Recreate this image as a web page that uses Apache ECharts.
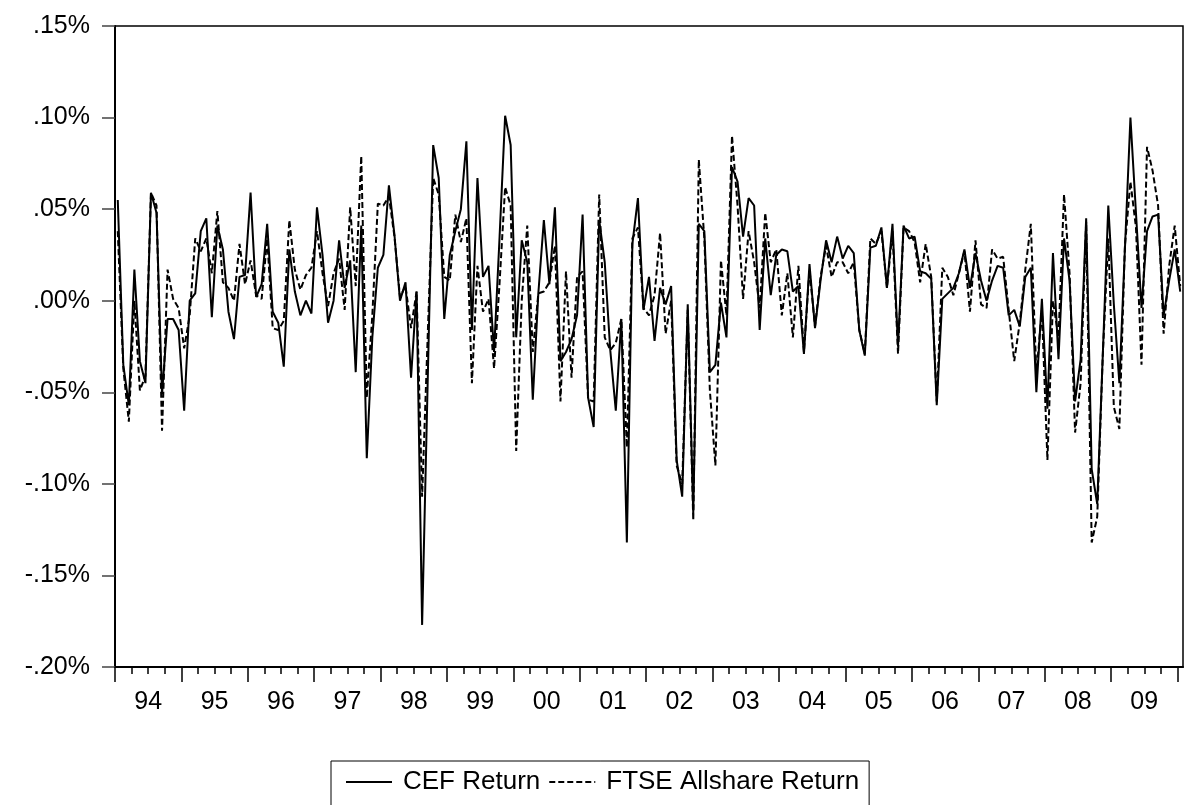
<!DOCTYPE html>
<html>
<head>
<meta charset="utf-8">
<title>CEF vs FTSE returns</title>
<script src="https://cdn.jsdelivr.net/npm/echarts@6/dist/echarts.min.js"></script>
<style>
  html, body { margin: 0; padding: 0; background: #fff; }
  #chart { width: 1193px; height: 805px; }
</style>
</head>
<body>
<div id="chart"></div>
<script>
// monthly observations, 1994M01 .. 2010M01
var years = ["94", "95", "96", "97", "98", "99", "00", "01", "02", "03", "04", "05", "06", "07", "08", "09"];

var cefReturn = [
  0.055, -0.035, -0.057, 0.017, -0.033, -0.045, 0.059, 0.048, -0.051, -0.010, -0.010, -0.016,
  -0.060, 0.000, 0.004, 0.038, 0.045, -0.009, 0.041, 0.028, -0.006, -0.021, 0.013, 0.014,
  0.059, 0.002, 0.009, 0.042, -0.006, -0.012, -0.036, 0.028, 0.005, -0.008, 0.000, -0.007,
  0.051, 0.025, -0.012, 0.000, 0.033, 0.007, 0.022, -0.039, 0.041, -0.086, -0.020, 0.018,
  0.025, 0.063, 0.036, 0.000, 0.010, -0.042, 0.005, -0.177, -0.045, 0.085, 0.067, -0.010,
  0.025, 0.038, 0.050, 0.087, -0.016, 0.067, 0.013, 0.019, -0.028, 0.035, 0.101, 0.085,
  -0.020, 0.033, 0.021, -0.054, 0.004, 0.044, 0.009, 0.051, -0.033, -0.028, -0.021, -0.008,
  0.047, -0.053, -0.069, 0.044, 0.021, -0.027, -0.060, -0.010, -0.132, 0.031, 0.056, -0.005,
  0.013, -0.022, 0.007, -0.002, 0.008, -0.087, -0.107, -0.002, -0.116, 0.042, 0.038, -0.039,
  -0.035, -0.001, -0.020, 0.073, 0.065, 0.035, 0.056, 0.052, -0.016, 0.034, 0.003, 0.025,
  0.028, 0.027, 0.005, 0.008, -0.029, 0.020, -0.015, 0.011, 0.033, 0.021, 0.035, 0.023,
  0.030, 0.026, -0.016, -0.030, 0.029, 0.030, 0.040, 0.007, 0.042, -0.025, 0.041, 0.034,
  0.035, 0.016, 0.015, 0.012, -0.057, 0.001, 0.004, 0.007, 0.015, 0.028, 0.007, 0.026,
  0.011, 0.000, 0.011, 0.019, 0.018, -0.008, -0.005, -0.014, 0.013, 0.018, -0.050, 0.001,
  -0.059, 0.026, -0.032, 0.034, 0.011, -0.055, -0.032, 0.045, -0.092, -0.111, -0.030, 0.052,
  -0.002, -0.045, 0.028, 0.100, 0.048, -0.004, 0.038, 0.046, 0.047, -0.008, 0.011, 0.028,
  0.005
];

var ftseReturn = [
  0.038, -0.037, -0.066, 0.000, -0.049, -0.041, 0.059, 0.052, -0.071, 0.017, 0.001, -0.004,
  -0.026, -0.008, 0.034, 0.027, 0.034, 0.015, 0.049, 0.010, 0.007, 0.000, 0.031, 0.009,
  0.022, 0.003, 0.001, 0.034, -0.015, -0.016, -0.011, 0.044, 0.017, 0.006, 0.014, 0.018,
  0.038, 0.015, -0.003, 0.015, 0.023, -0.005, 0.051, 0.008, 0.079, -0.053, -0.008, 0.053,
  0.052, 0.057, 0.035, 0.002, 0.008, -0.015, 0.005, -0.107, -0.020, 0.067, 0.058, 0.013,
  0.011, 0.047, 0.032, 0.045, -0.045, 0.019, -0.006, 0.001, -0.037, 0.010, 0.062, 0.052,
  -0.082, 0.000, 0.041, -0.028, 0.004, 0.005, 0.010, 0.030, -0.055, 0.016, -0.042, 0.013,
  0.016, -0.054, -0.055, 0.058, -0.020, -0.027, -0.023, -0.010, -0.080, 0.034, 0.040, -0.004,
  -0.008, 0.003, 0.037, -0.018, 0.000, -0.090, -0.100, -0.005, -0.120, 0.077, 0.034, -0.049,
  -0.090, 0.022, -0.008, 0.090, 0.052, 0.001, 0.038, 0.021, -0.004, 0.048, 0.021, 0.028,
  -0.008, 0.015, -0.020, 0.019, -0.028, 0.017, -0.014, 0.013, 0.030, 0.013, 0.021, 0.021,
  0.015, 0.021, -0.016, -0.029, 0.034, 0.031, 0.038, 0.007, 0.038, -0.029, 0.040, 0.038,
  0.032, 0.010, 0.031, 0.013, -0.055, 0.018, 0.013, 0.003, 0.015, 0.027, -0.006, 0.033,
  -0.002, -0.004, 0.028, 0.023, 0.024, -0.005, -0.033, -0.012, 0.017, 0.042, -0.040, -0.005,
  -0.087, 0.000, -0.020, 0.058, 0.015, -0.072, -0.045, 0.043, -0.132, -0.118, -0.030, 0.034,
  -0.058, -0.070, 0.030, 0.065, 0.040, -0.035, 0.084, 0.071, 0.052, -0.018, 0.019, 0.041,
  0.008
];

var yTicks = [-0.20, -0.15, -0.10, -0.05, 0.00, 0.05, 0.10, 0.15];

var FONT = "'Liberation Sans', Arial, sans-serif";
var nMonths = cefReturn.length;

// each observation sits in the middle of its month
function toPoints(arr) {
  return arr.map(function (v, i) { return [i + 0.5, v]; });
}

var quarterTicks = [];
for (var q = 0; q <= 64; q++) quarterTicks.push(q * 3);
var yearTicks = [];
var yearMids = [];
for (var y = 0; y <= years.length; y++) {
  yearTicks.push(y * 12);
  if (y < years.length) yearMids.push(y * 12 + 6);
}

function pctLabel(v) {
  var n = Math.round(v * 100);
  var s = String(Math.abs(n));
  if (s.length < 2) s = "0" + s;
  return (n < 0 ? "-" : "") + "." + s + "%";
}

var chart = echarts.init(document.getElementById("chart"));
chart.setOption({
  animation: false,
  backgroundColor: "#fff",
  grid: {
    left: 115,
    top: 26,
    right: 10,
    bottom: 138,
    show: true,
    borderColor: "#000",
    borderWidth: 1.5
  },
  legend: {
    left: 331,
    top: 761,
    orient: "horizontal",
    borderColor: "#000",
    borderWidth: 1,
    padding: [8, 10, 30, 14],
    itemWidth: 46,
    itemHeight: 26,
    itemGap: 8,
    itemStyle: { opacity: 0 },
    textStyle: {
      fontFamily: FONT,
      fontSize: 26,
      color: "#000",
      padding: [0, 0, 0, 6]
    },
    data: ["CEF Return", "FTSE Allshare Return"]
  },
  xAxis: [
    {
      // quarterly minor ticks
      type: "value",
      min: 0,
      max: nMonths,
      axisLine: { show: true, onZero: false, lineStyle: { color: "#000", width: 2 } },
      axisTick: {
        show: true,
        inside: false,
        length: 7,
        customValues: quarterTicks,
        lineStyle: { color: "#000", width: 1.5 }
      },
      axisLabel: { show: false },
      splitLine: { show: false }
    },
    {
      // yearly major ticks + year labels
      type: "value",
      min: 0,
      max: nMonths,
      position: "bottom",
      axisLine: { show: false, onZero: false },
      axisTick: {
        show: true,
        inside: false,
        length: 15,
        customValues: yearTicks,
        lineStyle: { color: "#000", width: 1.5 }
      },
      axisLabel: {
        show: true,
        margin: 23,
        customValues: yearMids,
        fontFamily: FONT,
        fontSize: 25,
        color: "#000",
        formatter: function (v) {
          return years[Math.floor(v / 12)];
        }
      },
      splitLine: { show: false }
    }
  ],
  yAxis: {
    type: "value",
    min: yTicks[0],
    max: yTicks[yTicks.length - 1],
    interval: 0.05,
    axisLine: { show: true, onZero: false, lineStyle: { color: "#000", width: 2 } },
    axisTick: {
      show: true,
      inside: false,
      length: 13,
      lineStyle: { color: "#444", width: 1.5 }
    },
    axisLabel: {
      margin: 25,
      fontFamily: FONT,
      fontSize: 25,
      color: "#000",
      formatter: pctLabel
    },
    splitLine: { show: false }
  },
  series: [
    {
      name: "CEF Return",
      type: "line",
      xAxisIndex: 0,
      data: toPoints(cefReturn),
      symbol: "none",
      lineStyle: { color: "#000", width: 2, type: "solid" },
      itemStyle: { color: "#000" }
    },
    {
      name: "FTSE Allshare Return",
      type: "line",
      xAxisIndex: 0,
      data: toPoints(ftseReturn),
      symbol: "none",
      lineStyle: { color: "#000", width: 2, type: [6, 3] },
      itemStyle: { color: "#000" }
    }
  ]
});
</script>
</body>
</html>
